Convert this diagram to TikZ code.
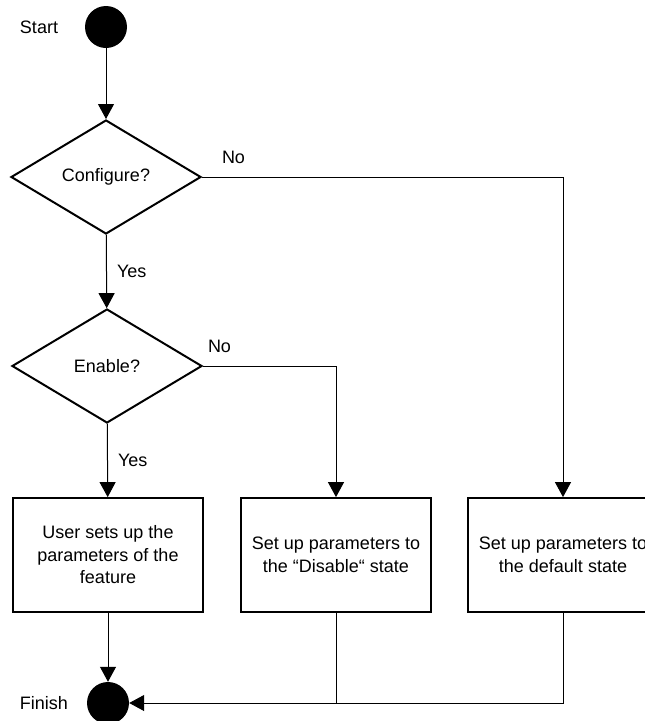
\documentclass[tikz,border=0pt]{standalone}
\usepackage{fontspec}
\setmainfont{Liberation Sans}
\usetikzlibrary{arrows.meta,shapes.geometric}

\tikzset{
  base/.style={font=\fontsize{18}{22.5}\selectfont},
  terminal/.style={circle, fill=black, minimum size=42pt, inner sep=0pt},
  decision/.style={diamond, draw, line width=2pt, minimum width=190pt,
    minimum height=114pt, inner sep=0pt, base},
  process/.style={rectangle, draw, line width=1.8pt, minimum width=190pt,
    minimum height=114pt, inner sep=0pt, align=center, base},
  caption/.style={inner sep=0pt, base},
  link/.style={line width=1pt},
  flow/.style={link, -{Triangle[length=15pt,width=16pt]}},
}

\begin{document}
\begin{tikzpicture}[x=1pt,y=-1pt]
  \useasboundingbox (0,0) rectangle (645,721);
  \clip (0,0) rectangle (645,721);

  % terminals
  \node[terminal] (start) at (106,27) {};
  \node[caption] (startlbl) at (39,27) {Start};
  \node[terminal] (finish) at (108,703) {};
  \node[caption] (finishlbl) at (44,703) {Finish};

  % decisions
  \node[decision] (cfg) at (106,177) {Configure?};
  \node[decision] (en) at (107,366) {Enable?};

  % actions
  \node[process] (user) at (108,555) {User sets up the\\parameters of the\\feature};
  \node[process] (disable) at (336,555) {Set up parameters to\\the “Disable“ state};
  \node[process] (default) at (563,555) {Set up parameters to\\the default state};

  % main flow
  \draw[flow] (start) -- (cfg);
  \draw[flow] (cfg) -- node[caption, anchor=west, xshift=10pt] {Yes} (en);
  \draw[flow] (en) -- node[caption, anchor=west, xshift=10pt] {Yes} (user);
  \draw[flow] (user) -- (finish);

  % "No" branches
  \draw[flow] (cfg.east) node[caption, anchor=south west, xshift=19.5pt, yshift=12.5pt] {No} -| (default.north);
  \draw[flow] (en.east) node[caption, anchor=south west, xshift=4.5pt, yshift=12.5pt] {No} -| (disable.north);

  % return to finish
  \draw[flow] (default.south) |- (finish.east);
  \draw[link] (disable.south) -- (disable.south |- finish.east);
\end{tikzpicture}
\end{document}
